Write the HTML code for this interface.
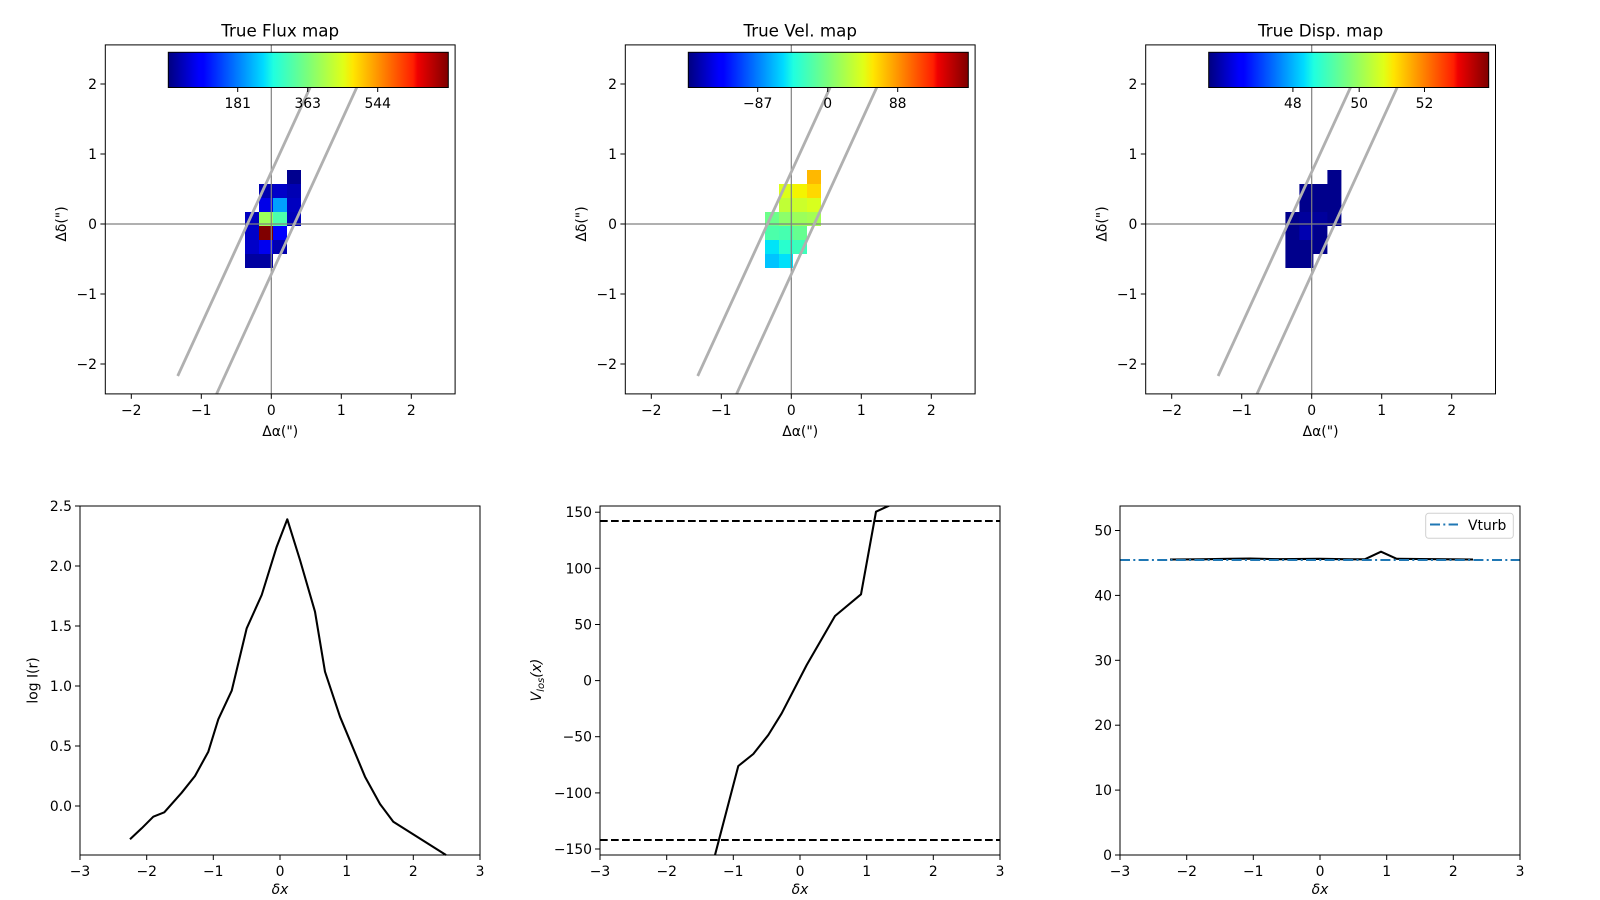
<!DOCTYPE html>
<html><head><meta charset="utf-8"><style>
html,body{margin:0;padding:0;background:#fff;}
svg{display:block;}
text{font-family:"DejaVu Sans","Liberation Sans",sans-serif;fill:#000;}
.t{font-size:13.9px;}
.ti{font-size:16.7px;}
</style></head><body>
<svg width="1600" height="900" viewBox="0 0 1600 900" xmlns="http://www.w3.org/2000/svg">
<defs>
<linearGradient id="jet" x1="0" x2="1" y1="0" y2="0">
<stop offset="0" stop-color="#00007f"/>
<stop offset="0.11" stop-color="#0000ff"/>
<stop offset="0.125" stop-color="#0000ff"/>
<stop offset="0.34" stop-color="#00dcff"/>
<stop offset="0.375" stop-color="#1fffe0"/>
<stop offset="0.5" stop-color="#7cff79"/>
<stop offset="0.625" stop-color="#e0ff17"/>
<stop offset="0.66" stop-color="#ffe600"/>
<stop offset="0.875" stop-color="#ff1e00"/>
<stop offset="0.89" stop-color="#f00000"/>
<stop offset="1" stop-color="#7f0000"/>
</linearGradient>
</defs>

<g>
<rect x="287" y="170" width="14" height="14" fill="#00008f"/>
<rect x="259" y="184" width="14" height="14" fill="#0000b0"/>
<rect x="273" y="184" width="14" height="14" fill="#0000c8"/>
<rect x="287" y="184" width="14" height="14" fill="#0000b4"/>
<rect x="259" y="198" width="14" height="14" fill="#0000e8"/>
<rect x="273" y="198" width="14" height="14" fill="#00a0ff"/>
<rect x="287" y="198" width="14" height="14" fill="#0000c0"/>
<rect x="245" y="212" width="14" height="14" fill="#0000c0"/>
<rect x="259" y="212" width="14" height="14" fill="#9cff5a"/>
<rect x="273" y="212" width="14" height="14" fill="#4cffac"/>
<rect x="287" y="212" width="14" height="14" fill="#0000b8"/>
<rect x="245" y="226" width="14" height="14" fill="#0000c8"/>
<rect x="259" y="226" width="14" height="14" fill="#800000"/>
<rect x="273" y="226" width="14" height="14" fill="#0000ff"/>
<rect x="245" y="240" width="14" height="14" fill="#0000c8"/>
<rect x="259" y="240" width="14" height="14" fill="#0000f0"/>
<rect x="273" y="240" width="14" height="14" fill="#0000b0"/>
<rect x="245" y="254" width="14" height="14" fill="#0000a0"/>
<rect x="259" y="254" width="14" height="14" fill="#0000a0"/>
</g>

<g transform="translate(520,0)">
<rect x="287" y="170" width="14" height="14" fill="#ffb800"/>
<rect x="259" y="184" width="14" height="14" fill="#dcff1a"/>
<rect x="273" y="184" width="14" height="14" fill="#f4f400"/>
<rect x="287" y="184" width="14" height="14" fill="#ffd800"/>
<rect x="259" y="198" width="14" height="14" fill="#c0ff36"/>
<rect x="273" y="198" width="14" height="14" fill="#ccff2a"/>
<rect x="287" y="198" width="14" height="14" fill="#d8ff1e"/>
<rect x="245" y="212" width="14" height="14" fill="#6cff8a"/>
<rect x="259" y="212" width="14" height="14" fill="#8cff6a"/>
<rect x="273" y="212" width="14" height="14" fill="#9cff5a"/>
<rect x="287" y="212" width="14" height="14" fill="#a4ff52"/>
<rect x="245" y="226" width="14" height="14" fill="#4cffaa"/>
<rect x="259" y="226" width="14" height="14" fill="#46ffb0"/>
<rect x="273" y="226" width="14" height="14" fill="#66ff90"/>
<rect x="245" y="240" width="14" height="14" fill="#00e4f8"/>
<rect x="259" y="240" width="14" height="14" fill="#28ffce"/>
<rect x="273" y="240" width="14" height="14" fill="#3cffba"/>
<rect x="245" y="254" width="14" height="14" fill="#00c4ff"/>
<rect x="259" y="254" width="14" height="14" fill="#00e0fa"/>
</g>

<g transform="translate(1040.4,0)" fill="#00008c">
<rect x="287" y="170" width="14" height="14"/>
<rect x="259" y="184" width="42" height="28"/>
<rect x="245" y="212" width="56" height="14"/>
<rect x="245" y="226" width="42" height="28"/>
<rect x="245" y="254" width="28" height="14"/>
<rect x="259" y="212" width="28" height="14" fill="#00009c"/>
<rect x="259" y="226" width="14" height="14" fill="#0000b0"/>
</g>

<g id="ov">
<line x1="271.3" y1="44.9" x2="271.3" y2="393.9" stroke="#808080" stroke-width="1.2"/>
<line x1="105.3" y1="224" x2="455.1" y2="224" stroke="#808080" stroke-width="1.2"/>
<line x1="177.7" y1="376" x2="322.7" y2="60" stroke="#b0b0b0" stroke-width="2.8"/>
<line x1="216.6" y1="393.9" x2="369.3" y2="60" stroke="#b0b0b0" stroke-width="2.8"/>
<rect x="168.3" y="52.3" width="280" height="35.2" fill="url(#jet)" stroke="#000" stroke-width="1"/>
<rect x="105.3" y="44.9" width="349.8" height="349" fill="none" stroke="#000" stroke-width="1"/>
<g stroke="#000" stroke-width="1">
<line x1="131.3" y1="393.9" x2="131.3" y2="398.8"/><line x1="201.3" y1="393.9" x2="201.3" y2="398.8"/>
<line x1="271.3" y1="393.9" x2="271.3" y2="398.8"/><line x1="341.3" y1="393.9" x2="341.3" y2="398.8"/>
<line x1="411.3" y1="393.9" x2="411.3" y2="398.8"/>
<line x1="105.3" y1="84" x2="100.4" y2="84"/><line x1="105.3" y1="154" x2="100.4" y2="154"/>
<line x1="105.3" y1="224" x2="100.4" y2="224"/><line x1="105.3" y1="294" x2="100.4" y2="294"/>
<line x1="105.3" y1="364" x2="100.4" y2="364"/>
</g>
<g class="t" text-anchor="middle">
<text x="131.3" y="415">−2</text><text x="201.3" y="415">−1</text><text x="271.3" y="415">0</text>
<text x="341.3" y="415">1</text><text x="411.3" y="415">2</text>
</g>
<g class="t" text-anchor="end">
<text x="97" y="89">2</text><text x="97" y="159">1</text><text x="97" y="229">0</text>
<text x="97" y="299">−1</text><text x="97" y="369">−2</text>
</g>
<text class="t" x="280.2" y="436" text-anchor="middle">Δα(")</text>
<text class="t" transform="translate(66,224) rotate(-90)" text-anchor="middle">Δδ(")</text>
</g>
<use href="#ov" transform="translate(520,0)"/>
<use href="#ov" transform="translate(1040.4,0)"/>

<g stroke="#000" stroke-width="1">
<line x1="237.7" y1="87.5" x2="237.7" y2="92"/><line x1="307.7" y1="87.5" x2="307.7" y2="92"/><line x1="377.7" y1="87.5" x2="377.7" y2="92"/>
<line x1="757.7" y1="87.5" x2="757.7" y2="92"/><line x1="827.7" y1="87.5" x2="827.7" y2="92"/><line x1="897.7" y1="87.5" x2="897.7" y2="92"/>
<line x1="1292.9" y1="87.5" x2="1292.9" y2="92"/><line x1="1359.2" y1="87.5" x2="1359.2" y2="92"/><line x1="1424.5" y1="87.5" x2="1424.5" y2="92"/>
</g>

<text class="ti" x="280.2" y="36.7" text-anchor="middle">True Flux map</text>
<text class="ti" x="800.2" y="36.7" text-anchor="middle">True Vel. map</text>
<text class="ti" x="1320.6" y="36.7" text-anchor="middle">True Disp. map</text>
<g class="t" text-anchor="middle">
<text x="237.7" y="108">181</text><text x="307.7" y="108">363</text><text x="377.7" y="108">544</text>
<text x="757.7" y="108">−87</text><text x="827.7" y="108">0</text><text x="897.7" y="108">88</text>
<text x="1292.9" y="108">48</text><text x="1359.2" y="108">50</text><text x="1424.5" y="108">52</text>
</g>

<polyline fill="none" stroke="#000" stroke-width="2.08" stroke-linejoin="round" points="130,839.3 141.7,828.3 153.3,816.7 164.3,812.3 181.7,792.7 195,776 208.3,751.7 218.3,719.3 231.7,690.7 246.7,628.3 261.7,595 276.7,546.7 287.3,519.3 300,560 315,611.7 325,671.7 340,716.7 365,776.7 380,804 393.3,821.7 446,855"/>
<rect x="80" y="506" width="400" height="349" fill="none" stroke="#000" stroke-width="1"/>
<g stroke="#000" stroke-width="1">
<line x1="80" y1="855" x2="80" y2="860"/><line x1="146.7" y1="855" x2="146.7" y2="860"/>
<line x1="213.3" y1="855" x2="213.3" y2="860"/><line x1="280" y1="855" x2="280" y2="860"/>
<line x1="346.7" y1="855" x2="346.7" y2="860"/><line x1="413.3" y1="855" x2="413.3" y2="860"/>
<line x1="480" y1="855" x2="480" y2="860"/>
<line x1="80" y1="506" x2="75" y2="506"/><line x1="80" y1="566" x2="75" y2="566"/>
<line x1="80" y1="626" x2="75" y2="626"/><line x1="80" y1="686" x2="75" y2="686"/>
<line x1="80" y1="746" x2="75" y2="746"/><line x1="80" y1="806" x2="75" y2="806"/>
</g>
<g class="t" text-anchor="middle">
<text x="80" y="876">−3</text><text x="146.7" y="876">−2</text><text x="213.3" y="876">−1</text>
<text x="280" y="876">0</text><text x="346.7" y="876">1</text><text x="413.3" y="876">2</text><text x="480" y="876">3</text>
</g>
<g class="t" text-anchor="end">
<text x="72" y="511">2.5</text><text x="72" y="571">2.0</text><text x="72" y="631">1.5</text>
<text x="72" y="691">1.0</text><text x="72" y="751">0.5</text><text x="72" y="811">0.0</text>
</g>
<text class="t" x="280" y="894" text-anchor="middle" font-style="italic">δx</text>
<text class="t" transform="translate(37.5,680.5) rotate(-90)" text-anchor="middle">log I(r)</text>

<svg x="600" y="506" width="400" height="349" viewBox="600 506 400 349" overflow="hidden">
<line x1="600" y1="521" x2="1000" y2="521" stroke="#000" stroke-width="2.08" stroke-dasharray="7.7,3.3"/>
<line x1="600" y1="840" x2="1000" y2="840" stroke="#000" stroke-width="2.08" stroke-dasharray="7.7,3.3"/>
<polyline fill="none" stroke="#000" stroke-width="2.08" stroke-linejoin="round" points="712,870 715,855 738.3,766 753.3,754 768.3,735 781.7,713.3 806.7,665 835,616 861,594.3 876,511.7 888.3,506 895,503"/>
</svg>
<rect x="600" y="506" width="400" height="349" fill="none" stroke="#000" stroke-width="1"/>
<g stroke="#000" stroke-width="1">
<line x1="600" y1="855" x2="600" y2="860"/><line x1="666.7" y1="855" x2="666.7" y2="860"/>
<line x1="733.3" y1="855" x2="733.3" y2="860"/><line x1="800" y1="855" x2="800" y2="860"/>
<line x1="866.7" y1="855" x2="866.7" y2="860"/><line x1="933.3" y1="855" x2="933.3" y2="860"/>
<line x1="1000" y1="855" x2="1000" y2="860"/>
<line x1="600" y1="512.2" x2="595" y2="512.2"/><line x1="600" y1="568.3" x2="595" y2="568.3"/>
<line x1="600" y1="624.5" x2="595" y2="624.5"/><line x1="600" y1="680.6" x2="595" y2="680.6"/>
<line x1="600" y1="736.7" x2="595" y2="736.7"/><line x1="600" y1="792.9" x2="595" y2="792.9"/>
<line x1="600" y1="849" x2="595" y2="849"/>
</g>
<g class="t" text-anchor="middle">
<text x="600" y="876">−3</text><text x="666.7" y="876">−2</text><text x="733.3" y="876">−1</text>
<text x="800" y="876">0</text><text x="866.7" y="876">1</text><text x="933.3" y="876">2</text><text x="1000" y="876">3</text>
</g>
<g class="t" text-anchor="end">
<text x="592" y="517.2">150</text><text x="592" y="573.3">100</text><text x="592" y="629.5">50</text>
<text x="592" y="685.6">0</text><text x="592" y="741.7">−50</text><text x="592" y="797.9">−100</text>
<text x="592" y="854">−150</text>
</g>
<text class="t" x="800" y="894" text-anchor="middle" font-style="italic">δx</text>
<text class="t" transform="translate(541,680) rotate(-90)" text-anchor="middle" font-style="italic">V<tspan font-size="10px" dy="3">los</tspan><tspan dy="-3">(x)</tspan></text>

<polyline fill="none" stroke="#000" stroke-width="2.08" stroke-linejoin="round" points="1170,559.5 1200,559.3 1230,558.8 1250,558.6 1280,559.2 1320,558.8 1350,559.3 1365,559.2 1381,551.7 1396.7,558.8 1420,559 1450,559.3 1473,559.5"/>
<line x1="1120" y1="560" x2="1520" y2="560" stroke="#1f77b4" stroke-width="2.08" stroke-dasharray="10,3.3,2,3.3"/>
<rect x="1120" y="506" width="400" height="349" fill="none" stroke="#000" stroke-width="1"/>
<g stroke="#000" stroke-width="1">
<line x1="1120" y1="855" x2="1120" y2="860"/><line x1="1186.7" y1="855" x2="1186.7" y2="860"/>
<line x1="1253.3" y1="855" x2="1253.3" y2="860"/><line x1="1320" y1="855" x2="1320" y2="860"/>
<line x1="1386.7" y1="855" x2="1386.7" y2="860"/><line x1="1453.3" y1="855" x2="1453.3" y2="860"/>
<line x1="1520" y1="855" x2="1520" y2="860"/>
<line x1="1120" y1="855" x2="1115" y2="855"/><line x1="1120" y1="790.1" x2="1115" y2="790.1"/>
<line x1="1120" y1="725.2" x2="1115" y2="725.2"/><line x1="1120" y1="660.3" x2="1115" y2="660.3"/>
<line x1="1120" y1="595.4" x2="1115" y2="595.4"/><line x1="1120" y1="530.5" x2="1115" y2="530.5"/>
</g>
<g class="t" text-anchor="middle">
<text x="1120" y="876">−3</text><text x="1186.7" y="876">−2</text><text x="1253.3" y="876">−1</text>
<text x="1320" y="876">0</text><text x="1386.7" y="876">1</text><text x="1453.3" y="876">2</text><text x="1520" y="876">3</text>
</g>
<g class="t" text-anchor="end">
<text x="1112" y="860">0</text><text x="1112" y="795.1">10</text><text x="1112" y="730.2">20</text>
<text x="1112" y="665.3">30</text><text x="1112" y="600.4">40</text><text x="1112" y="535.5">50</text>
</g>
<text class="t" x="1320" y="894" text-anchor="middle" font-style="italic">δx</text>
<rect x="1425.7" y="513.3" width="87.6" height="25" rx="3" fill="#fff" fill-opacity="0.8" stroke="#d0d0d0" stroke-width="1"/>
<line x1="1430" y1="524.5" x2="1458" y2="524.5" stroke="#1f77b4" stroke-width="2.08" stroke-dasharray="10,3.3,2,3.3"/>
<text class="t" x="1468" y="530">Vturb</text>
</svg>
</body></html>
